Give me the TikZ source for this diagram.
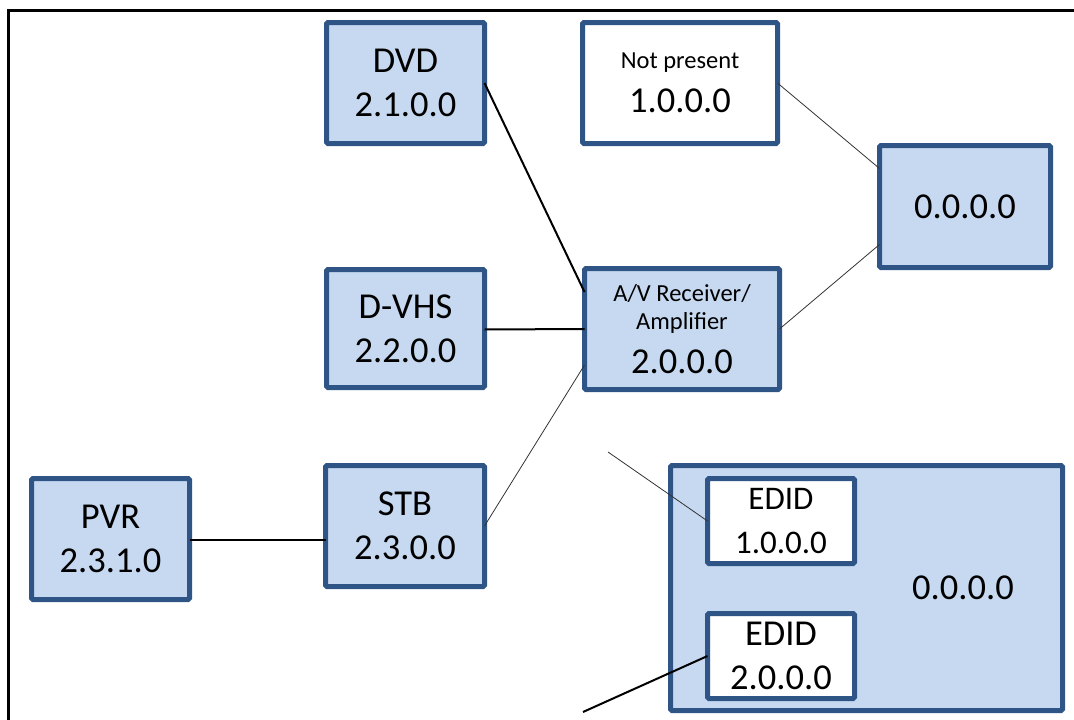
\documentclass[tikz,border=0pt]{standalone}
\usepackage{fontspec}
\setmainfont{Carlito}
\definecolor{boxfill}{HTML}{C6D9F1}
\definecolor{boxline}{HTML}{2F5586}
\newcommand{\smallsz}{\fontsize{24.5}{24}\selectfont}
\newcommand{\bigsz}{\fontsize{36.5}{44}\selectfont}
\begin{document}
\begin{tikzpicture}[x=1pt,y=-1pt,
  dev/.style={draw=boxline, line width=5pt, rounded corners=1.5pt, fill=boxfill,
    align=center, inner sep=0pt, outer sep=0pt, font=\bigsz},
  white/.style={dev, fill=white},
  thin/.style={line width=0.8pt, black!80},
  thick/.style={line width=2pt, black}]
\useasboundingbox (0,0) rectangle (1074,720);
% frame
\draw[line width=3pt] (8,720) -- (8,10) -- (1074,10);
% boxes
\node[dev, minimum width=158pt, minimum height=121pt] (dvd) at (405.5,83) {\bigsz DVD\\\bigsz 2.1.0.0};
\node[white, minimum width=195pt, minimum height=121pt] (np) at (680,83) {\smallsz Not present\\\fontsize{36.5}{41}\selectfont 1.0.0.0};
\node[dev, minimum width=171pt, minimum height=122pt] (root) at (965,206.5) {\bigsz 0.0.0.0};
\node[dev, minimum width=158pt, minimum height=118pt] (dvhs) at (405.5,328.5) {\bigsz D-VHS\\\bigsz 2.2.0.0};
\node[dev, minimum width=195pt, minimum height=121pt] (av) at (682,329) {\smallsz A/V Receiver/\\[-16pt]\smallsz Amplifier\\\fontsize{36.5}{40}\selectfont 2.0.0.0};
\node[dev, minimum width=159pt, minimum height=121pt] (stb) at (405,526) {\bigsz STB\\\fontsize{36.5}{43}\selectfont 2.3.0.0};
\node[dev, minimum width=158pt, minimum height=121pt] (pvr) at (110.5,539) {\bigsz PVR\\\fontsize{36.5}{42}\selectfont 2.3.1.0};
\node[dev, minimum width=392pt, minimum height=245pt] (tv) at (866.5,588) {};
\node[font=\bigsz, inner sep=0pt] (tvlabel) at (963,588) {0.0.0.0};
\node[white, minimum width=147pt, minimum height=85pt] (e1) at (781,521) {\fontsize{33}{41}\selectfont EDID\\\fontsize{33}{41}\selectfont 1.0.0.0};
\node[white, minimum width=147pt, minimum height=85pt] (e2) at (781,656) {\fontsize{36.5}{45}\selectfont EDID\\\fontsize{36.5}{45}\selectfont 2.0.0.0};
% free ends
\coordinate (f1) at (608,452);
\coordinate (f2) at (583,712);
% connectors
\draw[thick] (dvd.east) -- ([yshift=37pt]av.west);
\draw[thick] ([yshift=-1pt]dvhs.east) -- (av.west);
\draw[thin] (stb.east) -- ([yshift=-36pt]av.west);
\draw[thick] ([yshift=-1pt]pvr.east) -- ([yshift=-14pt]stb.west);
\draw[thin] (np.east) -- ([yshift=38pt]root.west);
\draw[thin] (av.east) -- ([yshift=-38pt]root.west);
\draw[thin] (f1) -- (e1.west);
\draw[thick] (f2) -- (e2.west);
\end{tikzpicture}
\end{document}
